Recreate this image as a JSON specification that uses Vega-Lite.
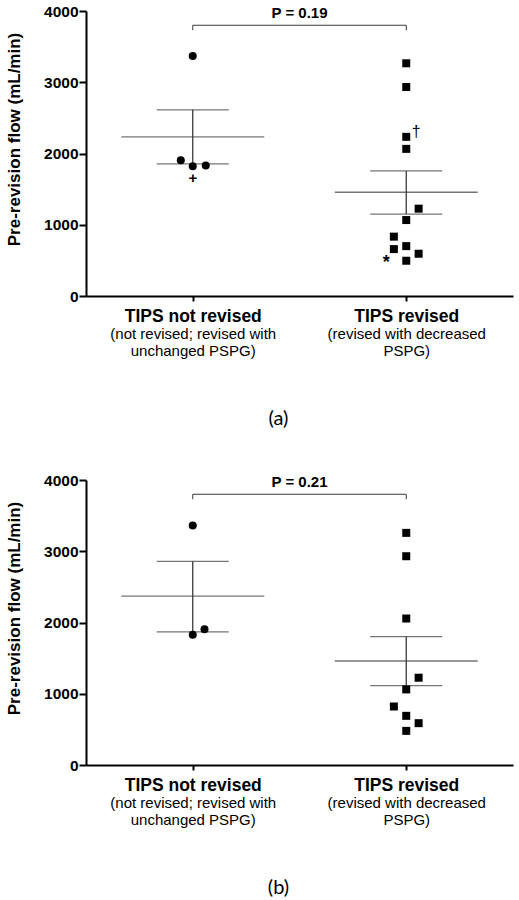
{
  "$schema": "https://vega.github.io/schema/vega-lite/v6.json",
  "padding": {"left": 5, "top": 4, "right": 5, "bottom": 5},
  "background": "white",
  "spacing": 44,
  "config": {
    "view": {"stroke": null},
    "font": "Liberation Sans",
    "axis": {"grid": false, "domainColor": "black", "tickColor": "black", "labelColor": "black", "titleColor": "black"}
  },
  "datasets": {
    "points": [
      {"panel": "a", "group": "not", "x": 0.5, "flow": 3368, "note": ""},
      {"panel": "a", "group": "not", "x": 0.444, "flow": 1905, "note": ""},
      {"panel": "a", "group": "not", "x": 0.5, "flow": 1821, "note": "+"},
      {"panel": "a", "group": "not", "x": 0.561, "flow": 1831, "note": ""},
      {"panel": "a", "group": "rev", "x": 1.5, "flow": 3266, "note": ""},
      {"panel": "a", "group": "rev", "x": 1.5, "flow": 2933, "note": ""},
      {"panel": "a", "group": "rev", "x": 1.5, "flow": 2234, "note": "†"},
      {"panel": "a", "group": "rev", "x": 1.5, "flow": 2065, "note": ""},
      {"panel": "a", "group": "rev", "x": 1.558, "flow": 1226, "note": ""},
      {"panel": "a", "group": "rev", "x": 1.5, "flow": 1066, "note": ""},
      {"panel": "a", "group": "rev", "x": 1.442, "flow": 833, "note": ""},
      {"panel": "a", "group": "rev", "x": 1.442, "flow": 658, "note": ""},
      {"panel": "a", "group": "rev", "x": 1.5, "flow": 700, "note": ""},
      {"panel": "a", "group": "rev", "x": 1.558, "flow": 593, "note": ""},
      {"panel": "a", "group": "rev", "x": 1.5, "flow": 495, "note": "*"},
      {"panel": "b", "group": "not", "x": 0.5, "flow": 3362, "note": ""},
      {"panel": "b", "group": "not", "x": 0.5, "flow": 1827, "note": ""},
      {"panel": "b", "group": "not", "x": 0.555, "flow": 1906, "note": ""},
      {"panel": "b", "group": "rev", "x": 1.5, "flow": 3258, "note": ""},
      {"panel": "b", "group": "rev", "x": 1.5, "flow": 2930, "note": ""},
      {"panel": "b", "group": "rev", "x": 1.5, "flow": 2056, "note": ""},
      {"panel": "b", "group": "rev", "x": 1.558, "flow": 1225, "note": ""},
      {"panel": "b", "group": "rev", "x": 1.5, "flow": 1061, "note": ""},
      {"panel": "b", "group": "rev", "x": 1.442, "flow": 821, "note": ""},
      {"panel": "b", "group": "rev", "x": 1.5, "flow": 690, "note": ""},
      {"panel": "b", "group": "rev", "x": 1.558, "flow": 587, "note": ""},
      {"panel": "b", "group": "rev", "x": 1.5, "flow": 479, "note": ""}
    ],
    "stats": [
      {"panel": "a", "group": "not", "x": 0.5, "mean": 2233, "lo": 1854, "hi": 2613},
      {"panel": "a", "group": "rev", "x": 1.5, "mean": 1456, "lo": 1150, "hi": 1755},
      {"panel": "b", "group": "not", "x": 0.5, "mean": 2371, "lo": 1869, "hi": 2859},
      {"panel": "b", "group": "rev", "x": 1.5, "mean": 1460, "lo": 1113, "hi": 1803}
    ],
    "tests": [
      {"panel": "a", "from": 0.5, "to": 1.5, "top": 3800, "foot": 3730, "p": "P = 0.19"},
      {"panel": "b", "from": 0.5, "to": 1.5, "top": 3800, "foot": 3730, "p": "P = 0.21"}
    ]
  },
  "vconcat": [
    {
      "width": 427, "height": 285,
      "title": {"text": "(a)", "orient": "bottom", "font": "Lato", "fontSize": 20, "fontWeight": "normal", "color": "black", "offset": 50, "dx": -21, "anchor": "middle"},
      "resolve": {"axis": {"x": "independent"}},
      "layer": [
        {
          "data": {"name": "stats"},
          "transform": [{"filter": "datum.panel == 'a'"}],
          "mark": {"type": "tick", "orient": "horizontal", "size": 143, "thickness": 1.3, "color": "#3a3a3a"},
          "encoding": {
            "x": {"field": "x", "type": "quantitative", "scale": {"domain": [0, 2], "nice": false},
              "axis": {"orient": "bottom", "values": [0.5, 1.5], "title": null, "domainWidth": 2, "tickWidth": 2, "tickSize": 5, "labelFont": "Liberation Sans", "labelFontSize": 17.5, "labelFontWeight": "bold", "labelPadding": 6,
                "labelExpr": "datum.value == 0.5 ? 'TIPS not revised' : 'TIPS revised'"}},
            "y": {"field": "mean", "type": "quantitative", "scale": {"domain": [0, 4000], "nice": false},
              "axis": {"title": "Pre-revision flow (mL/min)", "values": [0, 1000, 2000, 3000, 4000], "format": "d", "domainWidth": 2, "tickWidth": 2, "tickSize": 7, "labelPadding": 1, "labelFont": "Liberation Sans", "labelFontSize": 15.5, "labelFontWeight": "bold", "titleFont": "Liberation Sans", "titleFontSize": 17, "titleFontWeight": "bold", "titlePadding": 20, "titleY": 128}}
          }
        },
        {
          "data": {"name": "stats"},
          "transform": [{"filter": "datum.panel == 'a'"}],
          "mark": {"type": "tick", "orient": "horizontal", "size": 72, "thickness": 1.3, "color": "#3a3a3a"},
          "encoding": {
            "x": {"field": "x", "type": "quantitative",
              "axis": {"orient": "bottom", "values": [0.5, 1.5], "title": null, "domain": false, "ticks": false, "offset": 30, "labelPadding": 0, "labelBaseline": "top", "labelFont": "Liberation Sans", "labelFontSize": 15, "labelLineHeight": 17.6,
                "labelExpr": "datum.value == 0.5 ? ['(not revised; revised with', 'unchanged PSPG)'] : ['(revised with decreased', 'PSPG)']"}},
            "y": {"field": "lo", "type": "quantitative"}
          }
        },
        {
          "data": {"name": "stats"},
          "transform": [{"filter": "datum.panel == 'a'"}],
          "mark": {"type": "tick", "orient": "horizontal", "size": 72, "thickness": 1.3, "color": "#3a3a3a"},
          "encoding": {
            "x": {"field": "x", "type": "quantitative", "axis": null},
            "y": {"field": "hi", "type": "quantitative"}
          }
        },
        {
          "data": {"name": "stats"},
          "transform": [{"filter": "datum.panel == 'a'"}],
          "mark": {"type": "rule", "strokeWidth": 1.3, "color": "#3a3a3a"},
          "encoding": {
            "x": {"field": "x", "type": "quantitative", "axis": null},
            "y": {"field": "lo", "type": "quantitative"},
            "y2": {"field": "hi"}
          }
        },
        {
          "data": {"name": "tests"},
          "transform": [{"filter": "datum.panel == 'a'"}],
          "mark": {"type": "rule", "strokeWidth": 1, "color": "#3a3a3a"},
          "encoding": {
            "x": {"field": "from", "type": "quantitative", "axis": null},
            "x2": {"field": "to"},
            "y": {"field": "top", "type": "quantitative"}
          }
        },
        {
          "data": {"name": "tests"},
          "transform": [{"filter": "datum.panel == 'a'"}],
          "mark": {"type": "rule", "strokeWidth": 1, "color": "#3a3a3a"},
          "encoding": {
            "x": {"field": "from", "type": "quantitative", "axis": null},
            "y": {"field": "foot", "type": "quantitative"},
            "y2": {"field": "top"}
          }
        },
        {
          "data": {"name": "tests"},
          "transform": [{"filter": "datum.panel == 'a'"}],
          "mark": {"type": "rule", "strokeWidth": 1, "color": "#3a3a3a"},
          "encoding": {
            "x": {"field": "to", "type": "quantitative", "axis": null},
            "y": {"field": "foot", "type": "quantitative"},
            "y2": {"field": "top"}
          }
        },
        {
          "data": {"name": "tests"},
          "transform": [{"filter": "datum.panel == 'a'"}],
          "mark": {"type": "text", "font": "Liberation Sans", "fontSize": 15, "fontWeight": "bold", "color": "black", "dy": -12, "align": "center", "baseline": "middle"},
          "encoding": {
            "x": {"datum": 1, "type": "quantitative", "axis": null},
            "y": {"field": "top", "type": "quantitative"},
            "text": {"field": "p"}
          }
        },
        {
          "data": {"name": "points"},
          "transform": [{"filter": "datum.panel == 'a'"}],
          "mark": {"type": "point", "filled": true, "size": 64, "opacity": 1, "color": "black"},
          "encoding": {
            "x": {"field": "x", "type": "quantitative", "axis": null},
            "y": {"field": "flow", "type": "quantitative"},
            "shape": {"field": "group", "type": "nominal", "scale": {"domain": ["not", "rev"], "range": ["circle", "square"]}, "legend": null}
          }
        },
        {
          "data": {"name": "points"},
          "transform": [{"filter": "datum.panel == 'a' && datum.note == '+'"}],
          "mark": {"type": "text", "font": "Liberation Sans", "fontSize": 15, "fontWeight": "bold", "color": "black", "dy": 12, "baseline": "middle"},
          "encoding": {
            "x": {"field": "x", "type": "quantitative", "axis": null},
            "y": {"field": "flow", "type": "quantitative"},
            "text": {"field": "note"}
          }
        },
        {
          "data": {"name": "points"},
          "transform": [{"filter": "datum.panel == 'a' && datum.note == '†'"}],
          "mark": {"type": "text", "font": "Liberation Sans", "fontSize": 16, "color": "black", "dx": 10, "dy": -5, "baseline": "middle"},
          "encoding": {
            "x": {"field": "x", "type": "quantitative", "axis": null},
            "y": {"field": "flow", "type": "quantitative"},
            "text": {"field": "note"}
          }
        },
        {
          "data": {"name": "points"},
          "transform": [{"filter": "datum.panel == 'a' && datum.note == '*'"}],
          "mark": {"type": "text", "font": "Liberation Sans", "fontSize": 18, "fontWeight": "bold", "color": "black", "dx": -20, "dy": 2, "baseline": "middle"},
          "encoding": {
            "x": {"field": "x", "type": "quantitative", "axis": null},
            "y": {"field": "flow", "type": "quantitative"},
            "text": {"field": "note"}
          }
        }
      ]
    },
    {
      "width": 427, "height": 285,
      "title": {"text": "(b)", "orient": "bottom", "font": "Lato", "fontSize": 20, "fontWeight": "normal", "color": "black", "offset": 50, "dx": -21, "anchor": "middle"},
      "resolve": {"axis": {"x": "independent"}},
      "layer": [
        {
          "data": {"name": "stats"},
          "transform": [{"filter": "datum.panel == 'b'"}],
          "mark": {"type": "tick", "orient": "horizontal", "size": 143, "thickness": 1.3, "color": "#3a3a3a"},
          "encoding": {
            "x": {"field": "x", "type": "quantitative", "scale": {"domain": [0, 2], "nice": false},
              "axis": {"orient": "bottom", "values": [0.5, 1.5], "title": null, "domainWidth": 2, "tickWidth": 2, "tickSize": 5, "labelFont": "Liberation Sans", "labelFontSize": 17.5, "labelFontWeight": "bold", "labelPadding": 6,
                "labelExpr": "datum.value == 0.5 ? 'TIPS not revised' : 'TIPS revised'"}},
            "y": {"field": "mean", "type": "quantitative", "scale": {"domain": [0, 4000], "nice": false},
              "axis": {"title": "Pre-revision flow (mL/min)", "values": [0, 1000, 2000, 3000, 4000], "format": "d", "domainWidth": 2, "tickWidth": 2, "tickSize": 7, "labelPadding": 1, "labelFont": "Liberation Sans", "labelFontSize": 15.5, "labelFontWeight": "bold", "titleFont": "Liberation Sans", "titleFontSize": 17, "titleFontWeight": "bold", "titlePadding": 20, "titleY": 128}}
          }
        },
        {
          "data": {"name": "stats"},
          "transform": [{"filter": "datum.panel == 'b'"}],
          "mark": {"type": "tick", "orient": "horizontal", "size": 72, "thickness": 1.3, "color": "#3a3a3a"},
          "encoding": {
            "x": {"field": "x", "type": "quantitative",
              "axis": {"orient": "bottom", "values": [0.5, 1.5], "title": null, "domain": false, "ticks": false, "offset": 30, "labelPadding": 0, "labelBaseline": "top", "labelFont": "Liberation Sans", "labelFontSize": 15, "labelLineHeight": 17.6,
                "labelExpr": "datum.value == 0.5 ? ['(not revised; revised with', 'unchanged PSPG)'] : ['(revised with decreased', 'PSPG)']"}},
            "y": {"field": "lo", "type": "quantitative"}
          }
        },
        {
          "data": {"name": "stats"},
          "transform": [{"filter": "datum.panel == 'b'"}],
          "mark": {"type": "tick", "orient": "horizontal", "size": 72, "thickness": 1.3, "color": "#3a3a3a"},
          "encoding": {
            "x": {"field": "x", "type": "quantitative", "axis": null},
            "y": {"field": "hi", "type": "quantitative"}
          }
        },
        {
          "data": {"name": "stats"},
          "transform": [{"filter": "datum.panel == 'b'"}],
          "mark": {"type": "rule", "strokeWidth": 1.3, "color": "#3a3a3a"},
          "encoding": {
            "x": {"field": "x", "type": "quantitative", "axis": null},
            "y": {"field": "lo", "type": "quantitative"},
            "y2": {"field": "hi"}
          }
        },
        {
          "data": {"name": "tests"},
          "transform": [{"filter": "datum.panel == 'b'"}],
          "mark": {"type": "rule", "strokeWidth": 1, "color": "#3a3a3a"},
          "encoding": {
            "x": {"field": "from", "type": "quantitative", "axis": null},
            "x2": {"field": "to"},
            "y": {"field": "top", "type": "quantitative"}
          }
        },
        {
          "data": {"name": "tests"},
          "transform": [{"filter": "datum.panel == 'b'"}],
          "mark": {"type": "rule", "strokeWidth": 1, "color": "#3a3a3a"},
          "encoding": {
            "x": {"field": "from", "type": "quantitative", "axis": null},
            "y": {"field": "foot", "type": "quantitative"},
            "y2": {"field": "top"}
          }
        },
        {
          "data": {"name": "tests"},
          "transform": [{"filter": "datum.panel == 'b'"}],
          "mark": {"type": "rule", "strokeWidth": 1, "color": "#3a3a3a"},
          "encoding": {
            "x": {"field": "to", "type": "quantitative", "axis": null},
            "y": {"field": "foot", "type": "quantitative"},
            "y2": {"field": "top"}
          }
        },
        {
          "data": {"name": "tests"},
          "transform": [{"filter": "datum.panel == 'b'"}],
          "mark": {"type": "text", "font": "Liberation Sans", "fontSize": 15, "fontWeight": "bold", "color": "black", "dy": -12, "align": "center", "baseline": "middle"},
          "encoding": {
            "x": {"datum": 1, "type": "quantitative", "axis": null},
            "y": {"field": "top", "type": "quantitative"},
            "text": {"field": "p"}
          }
        },
        {
          "data": {"name": "points"},
          "transform": [{"filter": "datum.panel == 'b'"}],
          "mark": {"type": "point", "filled": true, "size": 64, "opacity": 1, "color": "black"},
          "encoding": {
            "x": {"field": "x", "type": "quantitative", "axis": null},
            "y": {"field": "flow", "type": "quantitative"},
            "shape": {"field": "group", "type": "nominal", "scale": {"domain": ["not", "rev"], "range": ["circle", "square"]}, "legend": null}
          }
        }
      ]
    }
  ]
}
